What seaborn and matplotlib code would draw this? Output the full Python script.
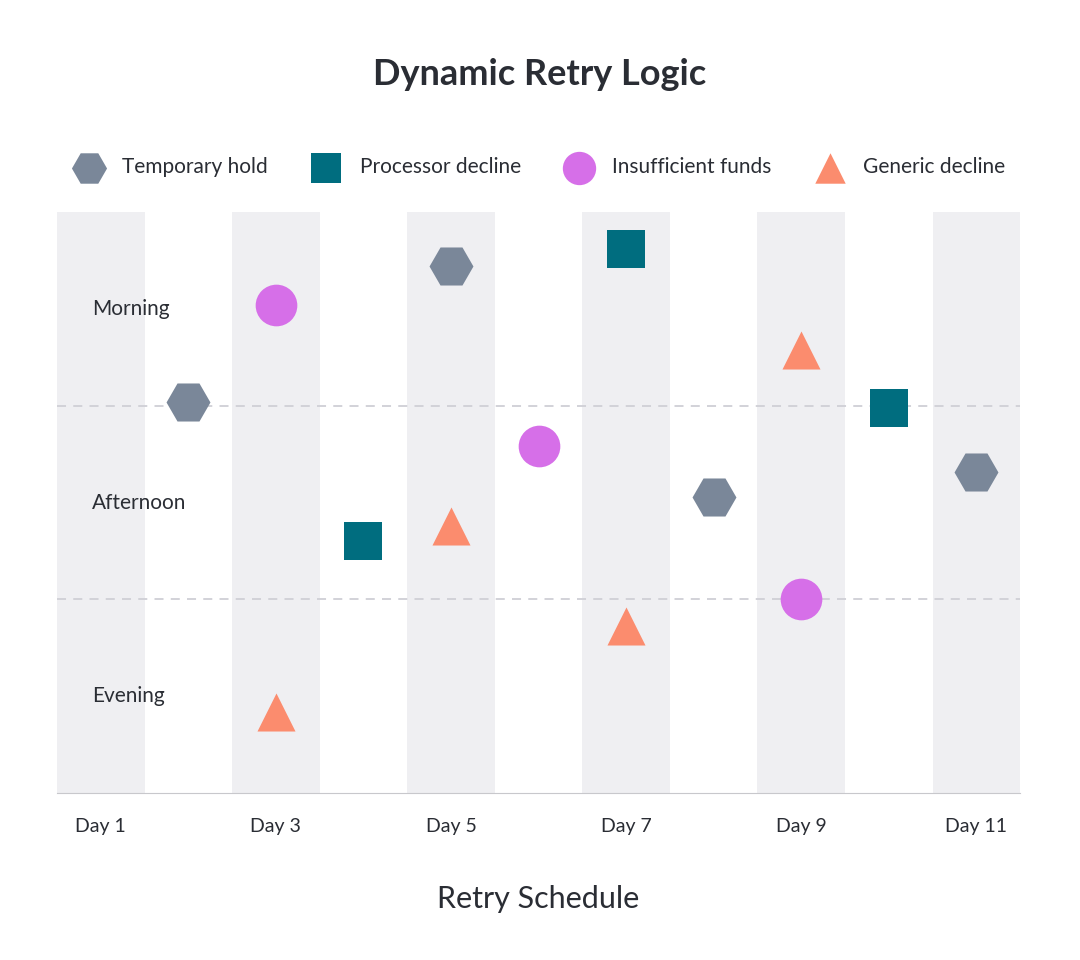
import matplotlib
matplotlib.use("Agg")
import matplotlib.pyplot as plt
import seaborn as sns
import pandas as pd

plt.rcParams["font.family"] = "Lato"

# data
categories = ["Temporary hold", "Processor decline", "Insufficient funds", "Generic decline"]
hold_x = [2, 5, 8, 11]
hold_y = [2.02, 2.72, 1.53, 1.66]
proc_x = [7, 4, 10]
proc_y = [2.81, 1.30, 1.99]
funds_x = [3, 6, 9]
funds_y = [2.52, 1.79, 1.00]
generic_x = [3, 5, 7, 9]
generic_y = [0.42, 1.38, 0.86, 2.29]
day_ticks = [1, 3, 5, 7, 9, 11]
day_labels = ["Day 1", "Day 3", "Day 5", "Day 7", "Day 9", "Day 11"]
slot_pos = [2.5, 1.5, 0.5]
slot_labels = ["Morning", "Afternoon", "Evening"]

series = {
    "Temporary hold": (hold_x, hold_y, "H", "#7a8799", 1000),
    "Processor decline": (proc_x, proc_y, "s", "#006d7f", 750),
    "Insufficient funds": (funds_x, funds_y, "o", "#d66fe8", 900),
    "Generic decline": (generic_x, generic_y, "^", "#fb8c6e", 750),
}

fig = plt.figure(figsize=(10.8, 9.6), dpi=100)
ax = fig.add_axes([0.0528, 0.174, 0.8917, 0.605])

for d in day_ticks:
    ax.axvspan(d - 0.5, d + 0.5, color="#efeff2", zorder=0, lw=0)
for yy in [1, 2]:
    ax.axhline(yy, color="#cfcfd6", ls=(0, (5, 4)), lw=1.3, zorder=1)

for name in categories:
    xs, ys, m, c, s = series[name]
    df = pd.DataFrame({"x": xs, "y": ys})
    sns.scatterplot(data=df, x="x", y="y", marker=m, color=c, s=s,
                    linewidth=0, ax=ax, label=name, zorder=3)

ax.set_xlim(0.5, 11.5)
ax.set_ylim(0, 3)
ax.set_xticks(day_ticks)
ax.set_xticklabels(day_labels, fontsize=14, color="#2a2d34")
ax.tick_params(axis="x", length=0, pad=18)
ax.set_yticks([])
ax.set_ylabel("")
for p, lab in zip(slot_pos, slot_labels):
    ax.text(0.9, p, lab, fontsize=15, color="#2a2d34", va="center", ha="left")
for sp in ["top", "right", "left"]:
    ax.spines[sp].set_visible(False)
ax.spines["bottom"].set_color("#c8c8cc")
ax.set_xlabel("Retry Schedule", fontsize=22, color="#2a2d34", labelpad=36)

ax.legend_.remove()
h, l = ax.get_legend_handles_labels()
fig.legend(h, l, loc="center", bbox_to_anchor=(0.497, 0.826), ncol=4, frameon=False,
           fontsize=15, markerscale=0.8, handletextpad=0.6, columnspacing=1.8)
for t in fig.legends[0].get_texts():
    t.set_color("#2a2d34")

fig.text(0.5, 0.922, "Dynamic Retry Logic", ha="center", va="center",
         fontsize=26, fontweight="bold", color="#2a2d34")

fig.savefig("out.png", dpi=100, facecolor="white")
